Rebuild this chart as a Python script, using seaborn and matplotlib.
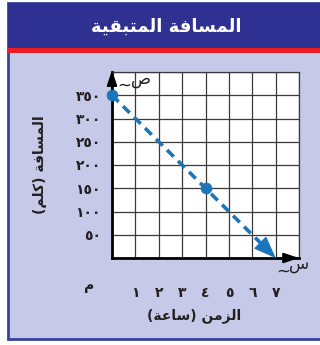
import numpy as np
import pandas as pd
import seaborn as sns
import matplotlib.pyplot as plt
from matplotlib.patches import Rectangle

# data
time_hours = [0, 4]
distance_km = [350, 150]
trend_hours = [0, 7]
trend_km = [350, 0]
x_ticks = [0, 1, 2, 3, 4, 5, 6, 7, 8]
x_labels = ['', '١', '٢', '٣', '٤', '٥', '٦', '٧', '']
y_ticks = [0, 50, 100, 150, 200, 250, 300, 350, 400]
y_labels = ['', '٥٠', '١٠٠', '١٥٠', '٢٠٠', '٢٥٠', '٣٠٠', '٣٥٠', '']
origin_label = 'م'

# matplotlib does no arabic shaping, so text is written in presentation forms, visual order
title = '\ufe94\ufef4\ufed8\ufe92\ufe98\ufee4\ufedf\ufe8d \ufe94\ufed3\ufe8e\ufeb4\ufee4\ufedf\ufe8d'   # المسافة المتبقية
ylabel = '(\ufee2\ufee0\ufedb) \ufe94\ufed3\ufe8e\ufeb4\ufee4\ufedf\ufe8d'   # المسافة (كلم)
xlabel = '(\ufe94\ufecb\ufe8e\ufeb3) \ufee6\ufee3\ufeb0\ufedf\ufe8d'   # الزمن (ساعة)
x_var = 'س'
y_var = 'ص'

blue = '#1b75bb'
ink = '#231f20'

sns.set_style('white')
plt.rcParams['font.family'] = ['DejaVu Sans']

W, H = 320, 345
fig = plt.figure(figsize=(W / 100, H / 100), dpi=100)

def fx(px):
    return px / W

def fy(py):
    return 1 - py / H

# panel background, title band, red rule
fig.patches.append(Rectangle((fx(8), fy(339)), fx(330), fy(3) - fy(339), transform=fig.transFigure,
                             facecolor='#c6cae8', edgecolor='#34449a', lw=2, zorder=-3))
fig.patches.append(Rectangle((fx(8), fy(48)), fx(330), fy(3) - fy(48), transform=fig.transFigure,
                             facecolor='#2e3192', edgecolor='none', zorder=-2))
fig.patches.append(Rectangle((fx(8), fy(53)), fx(330), fy(48) - fy(53), transform=fig.transFigure,
                             facecolor='#ed1c24', edgecolor='none', zorder=-2))
fig.text(fx(166), fy(27), title, color='white', fontsize=13, fontweight='bold', ha='center', va='center')

ax = fig.add_axes([fx(112), 87 / H, 187 / W, 186 / H])
ax.set_facecolor('white')

sns.lineplot(x=trend_hours, y=trend_km, ax=ax, color=blue, lw=2.6, linestyle=(0, (2.6, 1.7)), zorder=4)
# arrow head at the end of the trend line
tip = (trend_hours[1], trend_km[1])
tail = (trend_hours[0] + 0.9 * (trend_hours[1] - trend_hours[0]), trend_km[0] + 0.9 * (trend_km[1] - trend_km[0]))
ax.annotate('', xy=tip, xytext=tail,
            arrowprops=dict(arrowstyle='-|>,head_length=1.4,head_width=0.55', color=blue, lw=1,
                            shrinkA=0, shrinkB=0), zorder=5)
sns.scatterplot(x=time_hours, y=distance_km, ax=ax, s=60, color=blue, edgecolor=blue, zorder=6, clip_on=False)

ax.set_xlim(0, 8)
ax.set_ylim(0, 400)
ax.set_xticks(x_ticks)
ax.set_xticklabels(x_labels)
ax.set_yticks(y_ticks)
ax.set_yticklabels(y_labels)
ax.tick_params(length=0, labelsize=10, labelcolor=ink)
ax.tick_params(axis='x', pad=20)
ax.tick_params(axis='y', pad=8)
for lab in ax.get_xticklabels() + ax.get_yticklabels():
    lab.set_fontweight('bold')
ax.grid(True, color='#3a3a3a', lw=0.9)
ax.set_axisbelow(True)
for side in ['top', 'right']:
    ax.spines[side].set_color('#3a3a3a')
    ax.spines[side].set_linewidth(0.9)
for side in ['left', 'bottom']:
    ax.spines[side].set_color('black')
    ax.spines[side].set_linewidth(2)

# axis arrows and variable names
ax.annotate('', xy=(0, 1.01), xycoords='axes fraction', xytext=(0, 0.9),
            arrowprops=dict(arrowstyle='-|>,head_length=0.9,head_width=0.3', color='black', lw=1.5,
                            shrinkA=0, shrinkB=0))
ax.annotate('', xy=(1.0, 0), xycoords='axes fraction', xytext=(0.9, 0),
            arrowprops=dict(arrowstyle='-|>,head_length=0.9,head_width=0.3', color='black', lw=1.5,
                            shrinkA=0, shrinkB=0))
ax.text(0.155, 0.965, y_var, transform=ax.transAxes, fontsize=12, color=ink, ha='center', va='center')
ax.text(0.065, 0.93, '~', transform=ax.transAxes, fontsize=12, color=ink, ha='center', va='center')
ax.text(1.0, -0.03, x_var, transform=ax.transAxes, fontsize=12, color=ink, ha='center', va='center')
ax.text(0.915, -0.07, '~', transform=ax.transAxes, fontsize=12, color=ink, ha='center', va='center')

# origin mark
fig.text(fx(89), fy(286), origin_label, fontsize=10, fontweight='bold', color=ink, ha='center', va='center')

fig.text(fx(194), fy(316), xlabel, fontsize=10, fontweight='bold', color=ink, ha='center', va='center')
fig.text(fx(40), fy(165), ylabel, fontsize=10, fontweight='bold', color=ink, ha='center', va='center',
         rotation=90)

fig.savefig('out.png', dpi=100)
